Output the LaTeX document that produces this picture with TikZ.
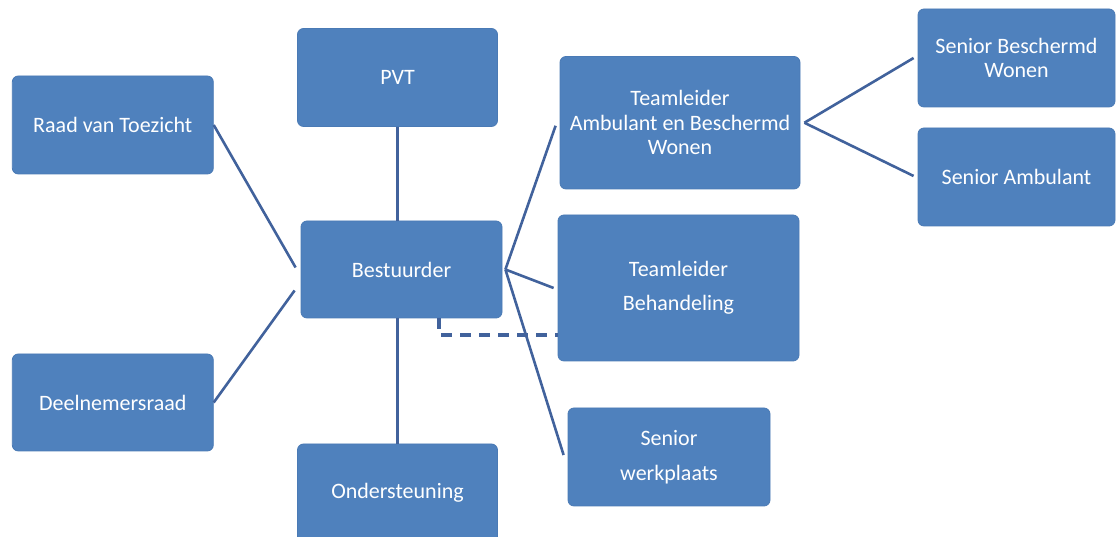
\documentclass[tikz,border=0pt]{standalone}
\usepackage{fontspec}
\setmainfont{Carlito}
\definecolor{boxblue}{HTML}{4F81BD}
\definecolor{boxedge}{HTML}{4A7AB5}
\definecolor{linkblue}{HTML}{41629C}
\begin{document}
\begin{tikzpicture}[x=1pt,y=1pt,
  orgbox/.style={draw=boxedge, line width=0.8pt, fill=boxblue, rounded corners=6pt,
    text=white, align=center, inner sep=2pt,
    font=\fontsize{22}{24.5}\selectfont},
  link/.style={draw=linkblue, line width=2.6pt},
  dashlink/.style={draw=linkblue, line width=3.2pt, dash pattern=on 11pt off 8pt}]
\clip (0,0) rectangle (1117,537);
\fill[white] (0,0) rectangle (1117,537);

\node[orgbox, minimum width=201pt, minimum height=98pt] (raad) at (112.8,412) {Raad van Toezicht};
\node[orgbox, minimum width=201pt, minimum height=97pt] (deel) at (112.8,134.5) {Deelnemersraad};
\node[orgbox, minimum width=200pt, minimum height=98pt] (pvt) at (397.5,459.5) {PVT};
\node[orgbox, minimum width=201pt, minimum height=97pt] (best) at (401.5,267.5) {Bestuurder};
\node[orgbox, minimum width=200pt, minimum height=98pt] (onder) at (397.5,44) {Ondersteuning};
\node[orgbox, minimum width=240pt, minimum height=132.5pt] (tab) at (680,414.25) {Teamleider\\Ambulant en Beschermd\\Wonen};
\node[orgbox, minimum width=241pt, minimum height=146pt] (tbeh) at (678.5,249) {Teamleider\\[9.5pt]Behandeling};
\node[orgbox, minimum width=202pt, minimum height=98pt] (swp) at (669,80) {Senior\\[10pt]werkplaats};
\node[orgbox, minimum width=197pt, minimum height=98pt] (sbw) at (1016.5,479) {Senior Beschermd\\Wonen};
\node[orgbox, minimum width=197pt, minimum height=98pt] (samb) at (1016.5,360) {Senior Ambulant};

\coordinate (hub) at ([xshift=3pt]best.east);
\coordinate (tabhub) at ([xshift=4pt]tab.east);

\draw[link] (raad.east) -- ([xshift=-5pt,yshift=2pt]best.west);
\draw[link] (deel.east) -- ([xshift=-6pt,yshift=-21pt]best.west);
\draw[link] (pvt.south) -- (pvt.south |- best.north);
\draw[link] (onder.north |- best.south) -- (onder.north);
\draw[link] (hub) -- ([xshift=-4pt,yshift=-3pt]tab.west);
\draw[link] (hub) -- ([xshift=-4pt]tbeh.west);
\draw[link] (hub) -- ([xshift=-4pt,yshift=2pt]swp.west);
\draw[link] (tabhub) -- ([xshift=-4pt]sbw.west);
\draw[link] (tabhub) -- ([xshift=-4pt,yshift=1pt]samb.west);
\draw[dashlink] ([xshift=37.5pt]best.south) |- ([yshift=-47pt]tbeh.west);
\end{tikzpicture}
\end{document}
